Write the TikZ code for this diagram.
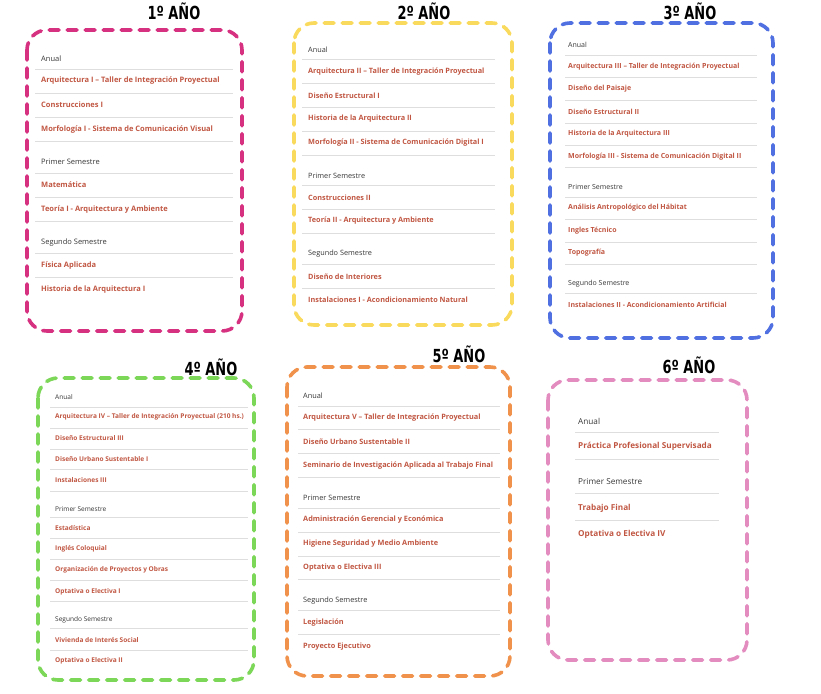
\documentclass[tikz,border=0pt]{standalone}
\usepackage{fontspec}
\setmainfont{Open Sans}
\newfontfamily\titlefont[FakeStretch=0.8]{DejaVu Sans Condensed}
\definecolor{subjred}{RGB}{192,86,66}
\definecolor{labgray}{RGB}{55,55,55}
\definecolor{sepgray}{RGB}{222,222,222}
\definecolor{boxone}{RGB}{214,48,128}
\definecolor{boxtwo}{RGB}{250,218,92}
\definecolor{boxthree}{RGB}{80,112,226}
\definecolor{boxfour}{RGB}{124,214,88}
\definecolor{boxfive}{RGB}{240,146,76}
\definecolor{boxsix}{RGB}{226,140,192}
\begin{document}
\begin{tikzpicture}[x=1pt,y=-1pt,
    yearbox/.style={line width=3.6pt,dash pattern=on 10pt off 8pt,line cap=round,rounded corners=20pt},
    yeartitle/.style={font=\titlefont\bfseries\fontsize{18}{18}\selectfont,inner sep=0pt},
    subj/.style={anchor=west,inner sep=0pt,text=subjred,font=\bfseries\fontsize{#1}{#1}\selectfont},
    term/.style={anchor=west,inner sep=0pt,text=labgray,font=\fontsize{#1}{#1}\selectfont},
    sep/.style={sepgray,line width=0.7pt}]
  \useasboundingbox (0,0) rectangle (821,693);

  % 1er anio
  \draw[yearbox,boxone] (27,30) rectangle (242,331);
  \node[yeartitle] (y1) at (174,11) {1º AÑO};
  \node[term=7.5] (a1) at (41,59) {Anual};
  \node[subj=7.5] (a2) at (41,81) {Arquitectura I – Taller de Integración Proyectual};
  \node[subj=7.5] (a3) at (41,105) {Construcciones I};
  \node[subj=7.5] (a4) at (41,130) {Morfología I - Sistema de Comunicación Visual};
  \node[term=7.5] (a5) at (41,162) {Primer Semestre};
  \node[subj=7.5] (a6) at (41,185) {Matemática};
  \node[subj=7.5] (a7) at (41,210) {Teoría I - Arquitectura y Ambiente};
  \node[term=7.5] (a8) at (41,243) {Segundo Semestre};
  \node[subj=7.5] (a9) at (41,266) {Física Aplicada};
  \node[subj=7.5] (a10) at (41,290) {Historia de la Arquitectura I};
  \foreach \y in {69,93,117,141,173,197,221,253,277}
    \draw[sep] (35,\y) -- (233,\y);

  % 2do anio
  \draw[yearbox,boxtwo] (294,23) rectangle (512,325);
  \node[yeartitle] (y2) at (424,11) {2º AÑO};
  \node[term=7.3] (b1) at (308,50) {Anual};
  \node[subj=7.3] (b2) at (308,72) {Arquitectura II – Taller de Integración Proyectual};
  \node[subj=7.3] (b3) at (308,96) {Diseño Estructural I};
  \node[subj=7.3] (b4) at (308,119) {Historia de la Arquitectura II};
  \node[subj=7.3] (b5) at (308,143) {Morfología II - Sistema de Comunicación Digital I};
  \node[term=7.3] (b6) at (308,176) {Primer Semestre};
  \node[subj=7.3] (b7) at (308,198) {Construcciones II};
  \node[subj=7.3] (b8) at (308,221) {Teoría II - Arquitectura y Ambiente};
  \node[term=7.3] (b9) at (308,254) {Segundo Semestre};
  \node[subj=7.3] (b10) at (308,277) {Diseño de Interiores};
  \node[subj=7.3] (b11) at (308,300) {Instalaciones I - Acondicionamiento Natural};
  \foreach \y in {59,83,107,131,155,185,209,233,264,288}
    \draw[sep] (302,\y) -- (495,\y);

  % 3er anio
  \draw[yearbox,boxthree] (550,23) rectangle (773,338);
  \node[yeartitle] (y3) at (690,11) {3º AÑO};
  \node[term=7] (c1) at (568,45) {Anual};
  \node[subj=7] (c2) at (568,67) {Arquitectura III – Taller de Integración Proyectual};
  \node[subj=7] (c3) at (568,89) {Diseño del Paisaje};
  \node[subj=7] (c4) at (568,112) {Diseño Estructural II};
  \node[subj=7] (c5) at (568,134) {Historia de la Arquitectura III};
  \node[subj=7] (c6) at (568,157) {Morfología III - Sistema de Comunicación Digital II};
  \node[term=7] (c7) at (568,187) {Primer Semestre};
  \node[subj=7] (c8) at (568,208) {Análisis Antropológico del Hábitat};
  \node[subj=7] (c9) at (568,231) {Ingles Técnico};
  \node[subj=7] (c10) at (568,253) {Topografía};
  \node[term=7] (c11) at (568,284) {Segundo Semestre};
  \node[subj=7] (c12) at (568,305) {Instalaciones II - Acondicionamiento Artificial};
  \foreach \y in {55,77,100,123,145,167,197,219,242,264,293}
    \draw[sep] (565,\y) -- (757,\y);

  % 4to anio
  \draw[yearbox,boxfour] (38,378) rectangle (254,680);
  \node[yeartitle] (y4) at (211,367) {4º AÑO};
  \node[term=6.55] (d1) at (55,397) {Anual};
  \node[subj=6.55] (d2) at (55,417) {Arquitectura IV – Taller de Integración Proyectual (210 hs.)};
  \node[subj=6.55] (d3) at (55,438) {Diseño Estructural III};
  \node[subj=6.55] (d4) at (55,459) {Diseño Urbano Sustentable I};
  \node[subj=6.55] (d5) at (55,480) {Instalaciones III};
  \node[term=6.55] (d6) at (55,509) {Primer Semestre};
  \node[subj=6.55] (d7) at (55,528) {Estadística};
  \node[subj=6.55] (d8) at (55,549) {Inglés Coloquial};
  \node[subj=6.55] (d9) at (55,570) {Organización de Proyectos y Obras};
  \node[subj=6.55] (d10) at (55,592) {Optativa o Electiva I};
  \node[term=6.55] (d11) at (55,620) {Segundo Semestre};
  \node[subj=6.55] (d12) at (55,640) {Vivienda de Interés Social};
  \node[subj=6.55] (d13) at (55,661) {Optativa o Electiva II};
  \foreach \y in {407,428,449,469,491,517,538,559,580,601,628,650}
    \draw[sep] (50,\y) -- (248,\y);

  % 5to anio
  \draw[yearbox,boxfive] (287,367) rectangle (510,676);
  \node[yeartitle] (y5) at (459,354) {5º AÑO};
  \node[term=7.35] (e1) at (303,396) {Anual};
  \node[subj=7.35] (e2) at (303,418) {Arquitectura V – Taller de Integración Proyectual};
  \node[subj=7.35] (e3) at (303,442) {Diseño Urbano Sustentable II};
  \node[subj=7.35] (e4) at (303,466) {Seminario de Investigación Aplicada al Trabajo Final};
  \node[term=7.35] (e5) at (303,498) {Primer Semestre};
  \node[subj=7.35] (e6) at (303,520) {Administración Gerencial y Económica};
  \node[subj=7.35] (e7) at (303,544) {Higiene Seguridad y Medio Ambiente};
  \node[subj=7.35] (e8) at (303,568) {Optativa o Electiva III};
  \node[term=7.35] (e9) at (303,601) {Segundo Semestre};
  \node[subj=7.35] (e10) at (303,623) {Legislación};
  \node[subj=7.35] (e11) at (303,647) {Proyecto Ejecutivo};
  \foreach \y in {406,429,453,477,508,532,556,579,610,634}
    \draw[sep] (298,\y) -- (500,\y);

  % 6to anio
  \draw[yearbox,boxsix] (548,380) rectangle (747,660);
  \node[yeartitle] (y6) at (689,365) {6º AÑO};
  \node[term=8.2] (f1) at (578,421) {Anual};
  \node[subj=8.2] (f2) at (578,446) {Práctica Profesional Supervisada};
  \node[term=8.2] (f3) at (578,482) {Primer Semestre};
  \node[subj=8.2] (f4) at (578,508) {Trabajo Final};
  \node[subj=8.2] (f5) at (578,534) {Optativa o Electiva IV};
  \foreach \y in {432,459,493,520}
    \draw[sep] (575,\y) -- (719,\y);
\end{tikzpicture}
\end{document}
